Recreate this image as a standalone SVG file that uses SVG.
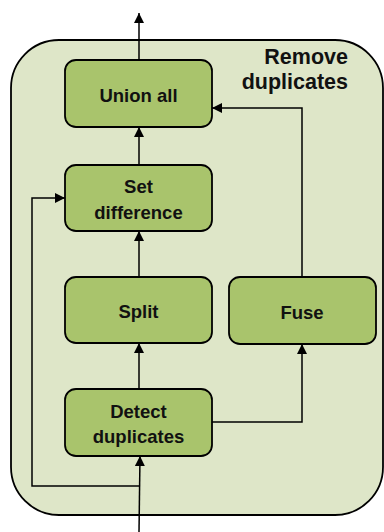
<svg xmlns="http://www.w3.org/2000/svg" width="384" height="532" viewBox="0 0 384 532">
<style>
.node{fill:#a9c46c;stroke:#000;stroke-width:1.8}
.t{font-family:"Liberation Sans",Arial,sans-serif;font-weight:bold;font-size:18.5px;fill:#111;text-anchor:middle}
.title{font-family:"Liberation Sans",Arial,sans-serif;font-weight:bold;font-size:21.5px;fill:#111;text-anchor:end}
.c{fill:none;stroke:#000;stroke-width:1.5}
</style>
<defs>
<marker id="ah" viewBox="0 0 10 10" refX="10" refY="5" markerWidth="10" markerHeight="10" markerUnits="userSpaceOnUse" orient="auto">
<path d="M0,0 L10,5 L0,10 z" fill="#000"/>
</marker>
</defs>
<g id="container">
<rect x="11" y="40" width="372" height="475" rx="48" ry="48" fill="#dee6c8" stroke="#000" stroke-width="1.8"/>
<text class="title" x="348" y="64">Remove</text>
<text class="title" x="348" y="89">duplicates</text>
</g>
<g id="connectors">
<path class="c" d="M139,60 V13" marker-end="url(#ah)"/>
<path class="c" d="M139,165 V127" marker-end="url(#ah)"/>
<path class="c" d="M302,277 V108 H212" marker-end="url(#ah)"/>
<path class="c" d="M139,277 V231" marker-end="url(#ah)"/>
<path class="c" d="M139,389 V343" marker-end="url(#ah)"/>
<path class="c" d="M212,422 H302 V344" marker-end="url(#ah)"/>
<path class="c" d="M139,532 L140,456" marker-end="url(#ah)"/>
<path class="c" d="M140,486 H32 V198 H65" marker-end="url(#ah)"/>
</g>
<g id="union-all">
<rect class="node" x="65" y="60" width="147" height="67" rx="11"/>
<text class="t" x="138.5" y="102">Union all</text>
</g>
<g id="set-difference">
<rect class="node" x="65" y="165" width="147" height="66" rx="11"/>
<text class="t" x="138.5" y="193">Set</text>
<text class="t" x="138.5" y="219">difference</text>
</g>
<g id="split">
<rect class="node" x="65" y="277" width="147" height="66" rx="11"/>
<text class="t" x="138.5" y="318">Split</text>
</g>
<g id="fuse">
<rect class="node" x="229" y="277" width="147" height="67" rx="11"/>
<text class="t" x="302" y="319">Fuse</text>
</g>
<g id="detect-duplicates">
<rect class="node" x="65" y="389" width="147" height="67" rx="11"/>
<text class="t" x="138.5" y="418">Detect</text>
<text class="t" x="138.5" y="443">duplicates</text>
</g>
</svg>
